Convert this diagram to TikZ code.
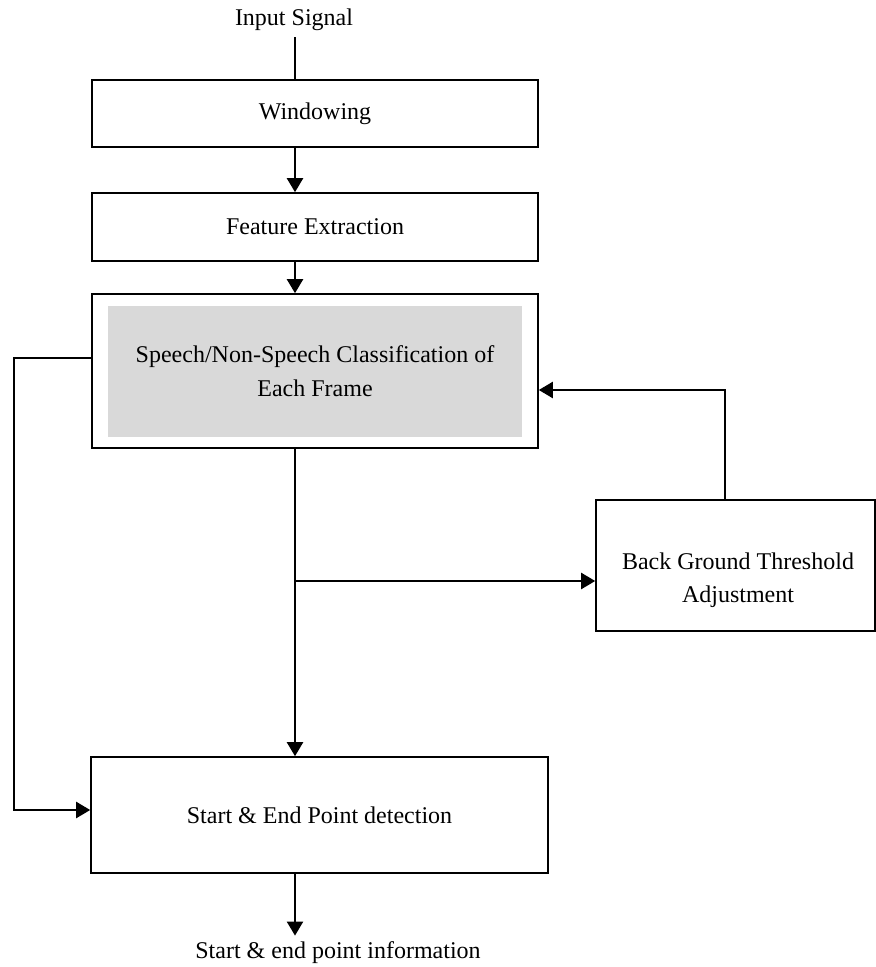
\documentclass[tikz,border=0pt]{standalone}
\usepackage{fontspec}
\setmainfont{Liberation Serif}
\usetikzlibrary{positioning,arrows.meta}
\definecolor{classifyGray}{RGB}{217,217,217}
\tikzstyle{chart} = [x = .5pt, y = -.5pt]
\tikzstyle{plainText} = [font=\fontsize{12}{17}\selectfont, inner sep=0pt, align=center]
\tikzstyle{blockStyle} = [plainText, draw=black, line width=.8pt, fill=white, minimum width=223pt]
\tikzstyle{grayBlockStyle} = [plainText, fill=classifyGray, minimum width=207pt, minimum height=65.5pt]
\tikzstyle{flowLine} = [line width=1.1pt]
\tikzstyle{flowArrow} = [flowLine, -{Triangle[length=7pt,width=8pt]}]

\begin{document}
\begin{tikzpicture}[chart]
  \useasboundingbox (0,0) rectangle (876,967);

  \node[plainText] (inputSignal) at (294,20) {Input Signal};
  \node[blockStyle, minimum height=33.5pt] (windowing) at (315,113.5) {Windowing};
  \node[blockStyle, minimum height=34pt] (featureExtraction) at (315,227) {Feature Extraction};
  \node[blockStyle, minimum height=77pt] (classification) at (315,371) {};
  \node[grayBlockStyle] (classificationText) at (315,371.5) {Speech/Non-Speech Classification of\\Each Frame};
  \node[blockStyle, minimum width=139.5pt, minimum height=65.5pt] (threshold) at (735.5,565.5) {};
  \node[plainText, font=\fontsize{12}{16.5}\selectfont] (thresholdText) at (738,580) {Back Ground Threshold\\Adjustment};
  \node[blockStyle, minimum width=228.5pt, minimum height=58pt] (startEnd) at (319.5,815) {Start \& End Point detection};
  \node[plainText] (outputInfo) at (338,953) {Start \& end point information};

  \coordinate (mainLine) at (295,0);
  \coordinate (branchPoint) at (295,581);
  \coordinate (feedbackTop) at (725,390);
  \coordinate (loopTop) at (14,358);
  \coordinate (loopBottom) at (14,810);

  \draw[flowLine, shorten <=3pt] (inputSignal.south -| mainLine) -- (windowing.north -| mainLine);
  \draw[flowArrow] (windowing.south -| mainLine) -- (featureExtraction.north -| mainLine);
  \draw[flowArrow] (featureExtraction.south -| mainLine) -- (classification.north -| mainLine);
  \draw[flowArrow] (classification.south -| mainLine) -- (startEnd.north -| mainLine);
  \draw[flowArrow] (branchPoint) -- (threshold.west |- branchPoint);
  \draw[flowArrow] (threshold.north -| feedbackTop) -- (feedbackTop) -- (classification.east |- feedbackTop);
  \draw[flowArrow] (classification.west |- loopTop) -- (loopTop) -- (loopBottom) -- (startEnd.west |- loopBottom);
  \draw[flowArrow, shorten >=3pt] (startEnd.south -| mainLine) -- (outputInfo.north -| mainLine);
\end{tikzpicture}
\end{document}
